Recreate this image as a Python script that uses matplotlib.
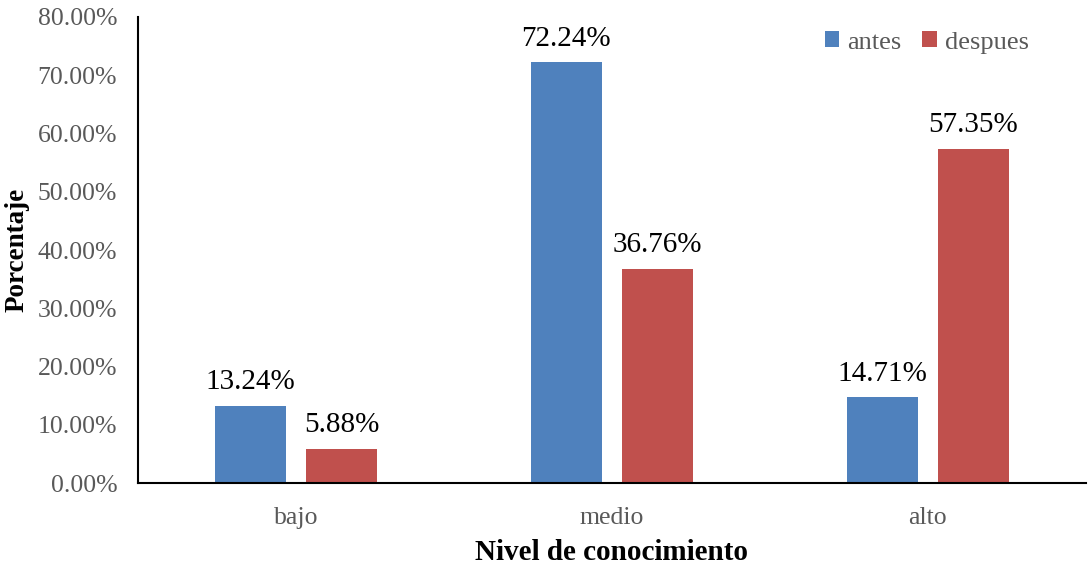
import matplotlib
matplotlib.use("Agg")
import matplotlib.pyplot as plt
import numpy as np
from matplotlib.ticker import FuncFormatter

categories = ["bajo", "medio", "alto"]
antes = [13.24, 72.24, 14.71]
despues = [5.88, 36.76, 57.35]

plt.rcParams['font.family'] = ['Liberation Serif', 'DejaVu Serif']
fig = plt.figure(figsize=(10.89, 5.66), dpi=100)
ax = fig.add_axes([0.1267, 0.1466, 0.8703, 0.8234])

x = np.arange(len(categories))
w = 0.225
off = 0.144
b1 = ax.bar(x - off, antes, w, color="#4F81BD", label="antes")
b2 = ax.bar(x + off, despues, w, color="#C0504D", label="despues")

for bars, vals in ((b1, antes), (b2, despues)):
    for rect, v in zip(bars, vals):
        ax.text(rect.get_x() + rect.get_width() / 2, v + 1.8, f"{v:.2f}%",
                ha="center", va="bottom", fontsize=21, color="black")

ax.set_xlim(-0.5, 2.5)
ax.set_ylim(0, 80)
ax.set_yticks(np.arange(0, 81, 10))
ax.yaxis.set_major_formatter(FuncFormatter(lambda v, p: f"{v:.2f}%"))
ax.set_xticks(x)
ax.set_xticklabels(categories)
ax.tick_params(axis="both", length=0, labelsize=18.5, colors="#595959")
ax.tick_params(axis="y", pad=15)
ax.tick_params(axis="x", pad=17)
for s in ("top", "right"):
    ax.spines[s].set_visible(False)
for s in ("left", "bottom"):
    ax.spines[s].set_linewidth(1.5)
    ax.spines[s].set_color("black")

ax.set_ylabel("Porcentaje", fontsize=19.5, fontweight="bold", labelpad=6)
ax.set_xlabel("Nivel de conocimiento", fontsize=21, fontweight="bold", labelpad=7.5)

leg = ax.legend(loc="upper right", bbox_to_anchor=(0.965, 1.02), ncol=2, frameon=False,
                fontsize=19, handlelength=0.55, handleheight=0.55, handletextpad=0.3,
                columnspacing=0.8, labelcolor="#595959")

fig.savefig("out.png", dpi=100)
